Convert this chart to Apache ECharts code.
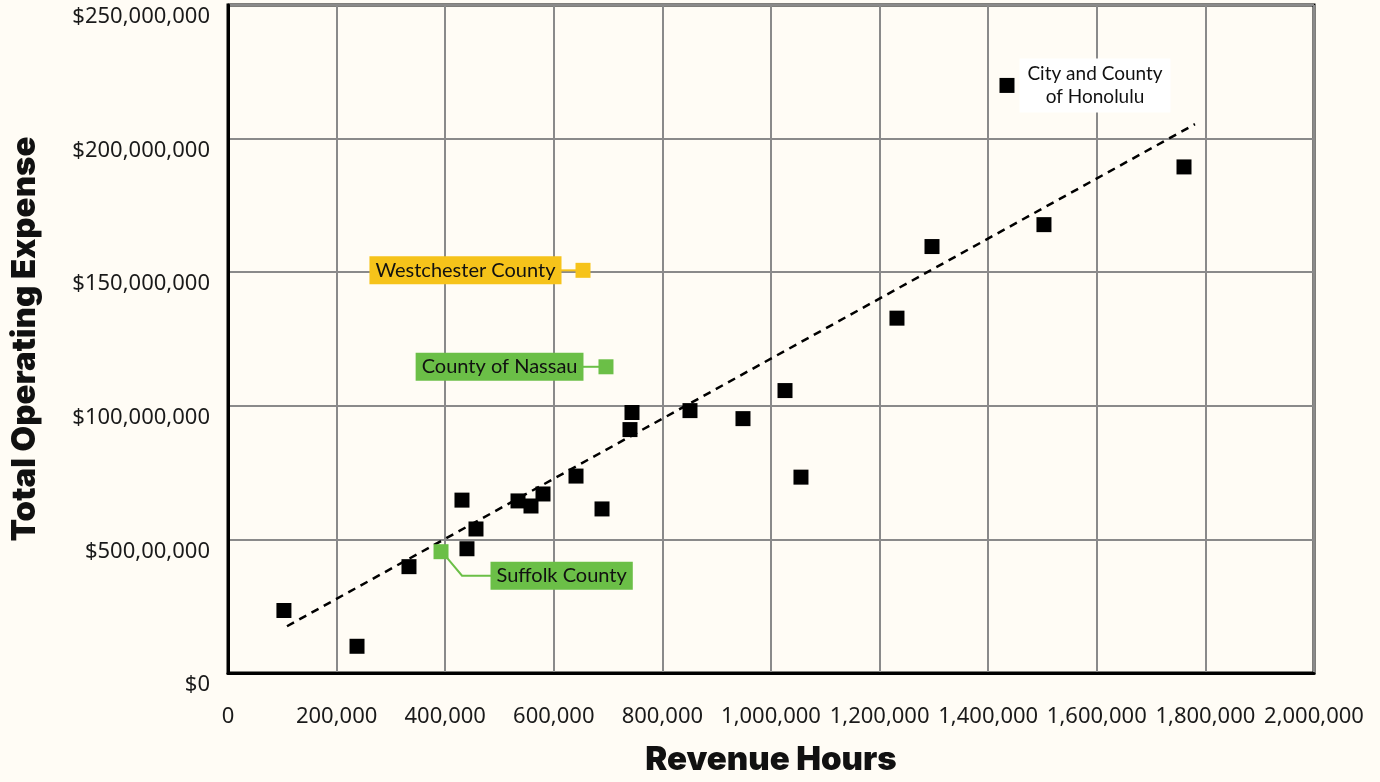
<!DOCTYPE html>
<html><head><meta charset="utf-8">
<script src="https://cdn.jsdelivr.net/npm/echarts@6/dist/echarts.min.js"></script>
<style>html,body{margin:0;padding:0;background:#fffcf5;}#c{width:1380px;height:782px;}</style>
</head><body><div id="c"></div>
<script>
// Revenue hours (x) and total operating expense (y) for agencies
const agencyHours = [103000, 237600, 333300, 440100, 430900, 456700, 534100, 558000, 580100, 640900, 688800, 740300, 744000, 850800, 948400, 1025800, 1055200, 1232000, 1296500, 1502700, 1760600];
const agencyExpense = [23400000, 10000000, 39800000, 46500000, 64700000, 53900000, 64400000, 62500000, 67000000, 73700000, 61400000, 91100000, 97500000, 98200000, 95200000, 105700000, 73300000, 132800000, 159600000, 167800000, 189400000];
const honolulu = [1434600, 219900000];
const westchester = [653800, 150700000];
const nassau = [696100, 114600000];
const suffolk = [392300, 45400000];
const trendX = [108650, 1780800];
const trendY = [17500000, 205400000];
const xTicks = ['0','200,000','400,000','600,000','800,000','1,000,000','1,200,000','1,400,000','1,600,000','1,800,000','2,000,000'];
const yTicks = ['$0','$500,00,000','$100,000,000','$150,000,000','$200,000,000','$250,000,000'];

const YELLOW = '#f6c31a', GREEN = '#6bbf47';
const chart = echarts.init(document.getElementById('c'));
const tickFont = {fontFamily:'Noto Sans', fontSize:22, color:'#1a1a1a'};
const titleFont = {fontFamily:'Inter', fontWeight:900, fontSize:33, color:'#111'};
const calloutFont = {fontFamily:'Lato', fontSize:20, color:'#111'};
const W_DIST = 14, N_DIST = 15;
chart.setOption({
  backgroundColor:'#fffcf5',
  animation:false,
  grid:{left:228, right:66, top:5, bottom:105, show:true, borderColor:'#000', borderWidth:3},
  xAxis:{type:'value', min:0, max:2000000, interval:200000,
    name:'Revenue Hours', nameLocation:'middle', nameGap:71, nameTextStyle:titleFont,
    axisLine:{lineStyle:{color:'#000', width:3}}, axisTick:{show:false},
    axisLabel:Object.assign({margin:33, formatter:(v)=>xTicks[Math.round(v/200000)]}, tickFont),
    splitLine:{lineStyle:{color:'#8a8a8a', width:2}}},
  yAxis:{type:'value', min:0, max:250000000, interval:50000000,
    name:'Total Operating Expense', nameLocation:'middle', nameGap:186, nameRotate:90, nameTextStyle:titleFont,
    axisLine:{lineStyle:{color:'#000', width:3}}, axisTick:{show:false},
    axisLabel:Object.assign({margin:18, verticalAlign:'top', padding:[1,0,0,0], formatter:(v)=>yTicks[Math.round(v/50000000)]}, tickFont),
    splitLine:{lineStyle:{color:'#8a8a8a', width:2}}},
  series:[
    {type:'line', data:trendX.map((x,i)=>[x,trendY[i]]), symbol:'none', silent:true,
      lineStyle:{color:'#000', width:2.5, type:[8,6]}, z:3},
    {type:'scatter', symbol:'rect', symbolSize:15, itemStyle:{color:'#000', opacity:1},
      data:agencyHours.map((x,i)=>[x,agencyExpense[i]]), z:4},
    {type:'scatter', symbol:'rect', symbolSize:15, itemStyle:{color:'#000', opacity:1}, data:[honolulu], z:4,
      label:{show:true, position:'right', distance:5, formatter:'{a|City and County}\n{a|of Honolulu}',
        backgroundColor:'#fff', padding:[4,7],
        rich:{a:{width:137, align:'center', fontFamily:'Lato', fontSize:19, lineHeight:23, color:'#111'}}}},
    {type:'scatter', symbol:'rect', symbolSize:15, itemStyle:{color:YELLOW, opacity:1}, data:[westchester], z:4,
      label:Object.assign({show:true, position:'left', distance:W_DIST, formatter:'Westchester County',
        backgroundColor:YELLOW, padding:[4,6]}, calloutFont)},
    {type:'scatter', symbol:'rect', symbolSize:15, itemStyle:{color:GREEN, opacity:1}, data:[nassau], z:4,
      label:Object.assign({show:true, position:'left', distance:N_DIST, formatter:'County of Nassau',
        backgroundColor:GREEN, padding:[4,6]}, calloutFont)},
    {type:'scatter', symbol:'rect', symbolSize:15, itemStyle:{color:GREEN, opacity:1}, data:[suffolk], z:4,
      label:Object.assign({show:true, position:'right', distance:42, formatter:'Suffolk County',
        backgroundColor:GREEN, padding:[4,6]}, calloutFont),
      labelLayout:{dy:24}}
  ]
});

// connector lines from each highlighted point to its callout box, positioned from the data
function connectors(){
  const px = p => chart.convertToPixel({gridIndex:0}, p);
  const w = px(westchester), n = px(nassau), s = px(suffolk);
  const seg = (pts, color) => ({type:'polyline', silent:true, z:3, shape:{points:pts}, style:{stroke:color, lineWidth:2, fill:null}});
  chart.setOption({graphic:[
    seg([[w[0]-7,w[1]],[w[0]-7.5-W_DIST-6,w[1]]], YELLOW),
    seg([[n[0]-7,n[1]],[n[0]-7.5-N_DIST-6,n[1]]], GREEN),
    seg([[s[0]+5,s[1]+5],[s[0]+21,s[1]+24],[s[0]+50,s[1]+24]], GREEN)
  ]});
}
connectors();
</script></body></html>
